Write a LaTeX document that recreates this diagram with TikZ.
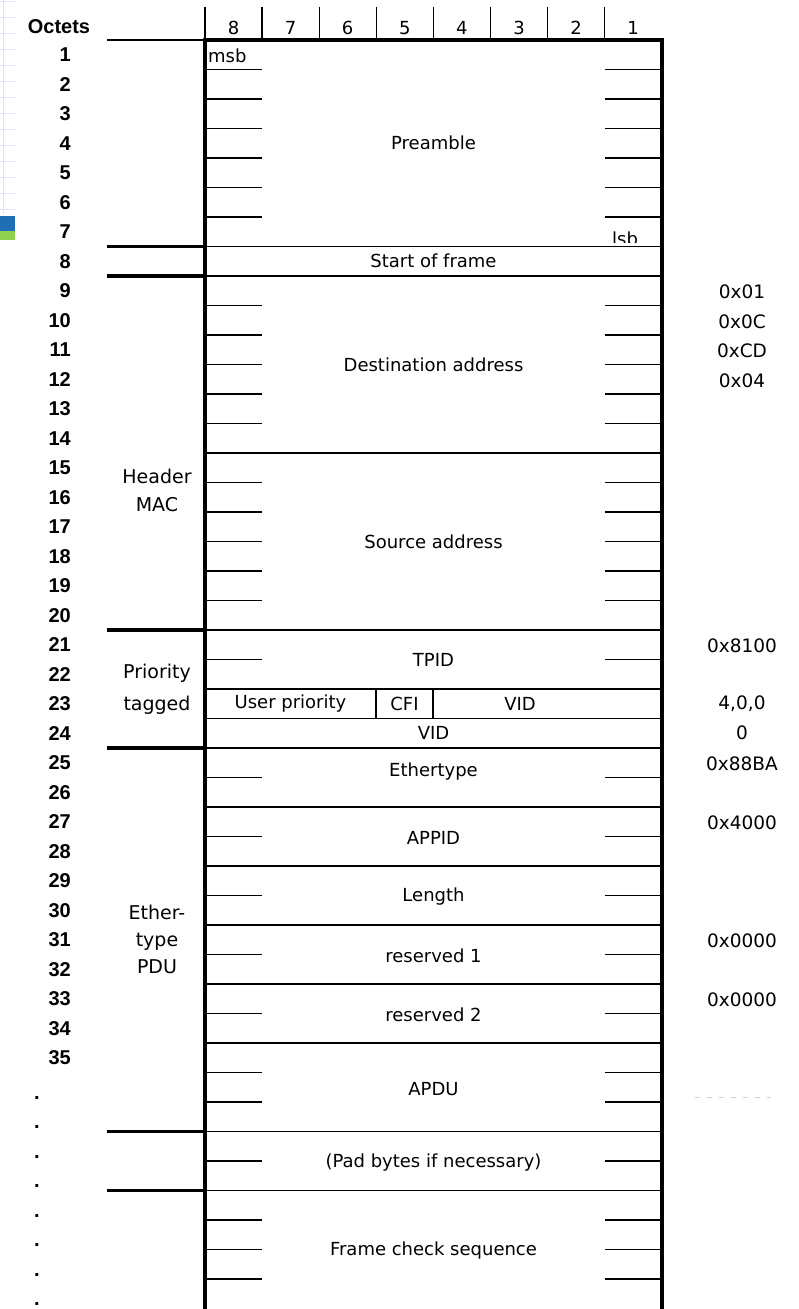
\documentclass[tikz,border=0pt]{standalone}
\usepackage{fontspec}
\setmainfont{DejaVu Sans}
\newfontfamily\octfont{Liberation Sans}
\definecolor{gridblue}{HTML}{DCE6F2}
\definecolor{tabblue}{HTML}{1F6FB5}
\definecolor{tabgreen}{HTML}{92D050}
\definecolor{faint}{HTML}{D9D0C6}
\tikzset{
    rule/.style={line width=1.4pt},
    heavy/.style={line width=3.4pt},
    field/.style={font=\fontsize{18}{20}\selectfont, inner sep=0pt},
    octno/.style={font=\octfont\bfseries\fontsize{20}{22}\selectfont, inner sep=0pt, anchor=east},
    sidelbl/.style={font=\fontsize{19}{28}\selectfont, align=center, inner sep=0pt},
    hexval/.style={font=\fontsize{18.5}{20}\selectfont, inner sep=0pt},
}
\begin{document}
\begin{tikzpicture}[x=1pt, y=-29.5pt]
    \useasboundingbox (0,-1.356) rectangle (798,43.017);
    \foreach \g in {0,...,13}
        \draw[gridblue, line width=0.9pt] (0,{(1+16*\g-40)/29.5}) -- (15,{(1+16*\g-40)/29.5});
    \draw[gridblue, line width=0.9pt] (3.5,-1.356) -- (3.5,5.9);
    \fill[tabblue] (0,5.966) rectangle (15,6.475);
    \fill[tabgreen] (0,6.475) rectangle (15,6.78);

    \foreach \c [count=\i from 0] in {8,7,6,5,4,3,2,1} {
        \draw[rule] ({205+57.1*\i},-1.119) -- ({205+57.1*\i},0);
        \node[field] (bit\c) at ({233.5+57.1*\i},-0.42) {\c};
    }
    \node[octno, anchor=center] (octets) at (59,-0.46) {Octets};
    \draw[rule] (107,0) -- (205,0);
    \draw[heavy] (205,43.1) -- (205,0) -- (662,0) -- (662,43.1);

    \foreach \k in {7,8,14,20,22,23,24,26,28,30,32,34,37,39}
        \draw[rule] (205,\k) -- (662,\k);
    \foreach \k in {7,8,20,24,37,39}
        \draw[heavy] (107,\k) -- (205,\k);
    \foreach \k in {1,2,3,4,5,6,9,10,11,12,13,15,16,17,18,19,21,25,27,29,31,33,35,36,38,40,41,42} {
        \draw[rule] (205,\k) -- (262,\k);
        \draw[rule] (605,\k) -- (662,\k);
    }
    \draw[rule] (376,22) -- (376,23);
    \draw[rule] (433,22) -- (433,23);

    \foreach \n in {1,...,35}
        \node[octno] (oct\n) at (71,{\n-0.5}) {\n};
    \foreach \n in {36,...,43}
        \node[octno, anchor=base] (dot\n) at (37,{\n-0.1}) {.};

    \node[sidelbl] (hdrmac) at (157,15.27) {Header\\MAC};
    \node[sidelbl] (priotag) at (157,22) {Priority\\[4pt]tagged};
    \node[sidelbl] (ethpdu) at (157,30.5) {Ether-\\[-1pt]type\\[-1pt]PDU};

    \node[field, anchor=base west] (msb) at (208,0.75) {msb};
    \begin{scope}
        \clip (600,6) rectangle (661,6.87);
        \node[field, anchor=base west] (lsb) at (612,6.95) {lsb};
    \end{scope}
    \node[field] (preamble) at (433.5,3.5) {Preamble};
    \node[field] (sof) at (433.5,7.5) {Start of frame};
    \node[field] (dstaddr) at (433.5,11) {Destination address};
    \node[field] (srcaddr) at (433.5,17) {Source address};
    \node[field] (tpid) at (433.5,21) {TPID};
    \node[field] (userprio) at (290.5,22.5) {User priority};
    \node[field] (cfi) at (404.5,22.5) {CFI};
    \node[field] (vidhi) at (520,22.5) {VID};
    \node[field] (vidlo) at (433.5,23.5) {VID};
    \node[field] (ethtype) at (433.5,24.8) {Ethertype};
    \node[field] (appid) at (433.5,27.05) {APPID};
    \node[field] (length) at (433.5,29.05) {Length};
    \node[field] (resone) at (433.5,31.05) {reserved 1};
    \node[field] (restwo) at (433.5,33.05) {reserved 2};
    \node[field] (apdu) at (433.5,35.55) {APDU};
    \node[field] (pad) at (433.5,38.05) {(Pad bytes if necessary)};
    \node[field] (fcs) at (433.5,41.05) {Frame check sequence};

    \node[hexval] (dsta) at (742,8.55) {0x01};
    \node[hexval] (dstb) at (742,9.55) {0x0C};
    \node[hexval] (dstc) at (742,10.55) {0xCD};
    \node[hexval] (dstd) at (742,11.55) {0x04};
    \node[hexval] (tpidval) at (742,20.55) {0x8100};
    \node[hexval] (tciv) at (742,22.5) {4,0,0};
    \node[hexval] (vidval) at (742,23.5) {0};
    \node[hexval] (ethval) at (742,24.55) {0x88BA};
    \node[hexval] (appidval) at (742,26.55) {0x4000};
    \node[hexval] (resoneval) at (742,30.55) {0x0000};
    \node[hexval] (restwoval) at (742,32.55) {0x0000};
    \draw[faint, line width=1pt, dash pattern=on 5pt off 7pt] (695,35.86) -- (771,35.86);
\end{tikzpicture}
\end{document}
